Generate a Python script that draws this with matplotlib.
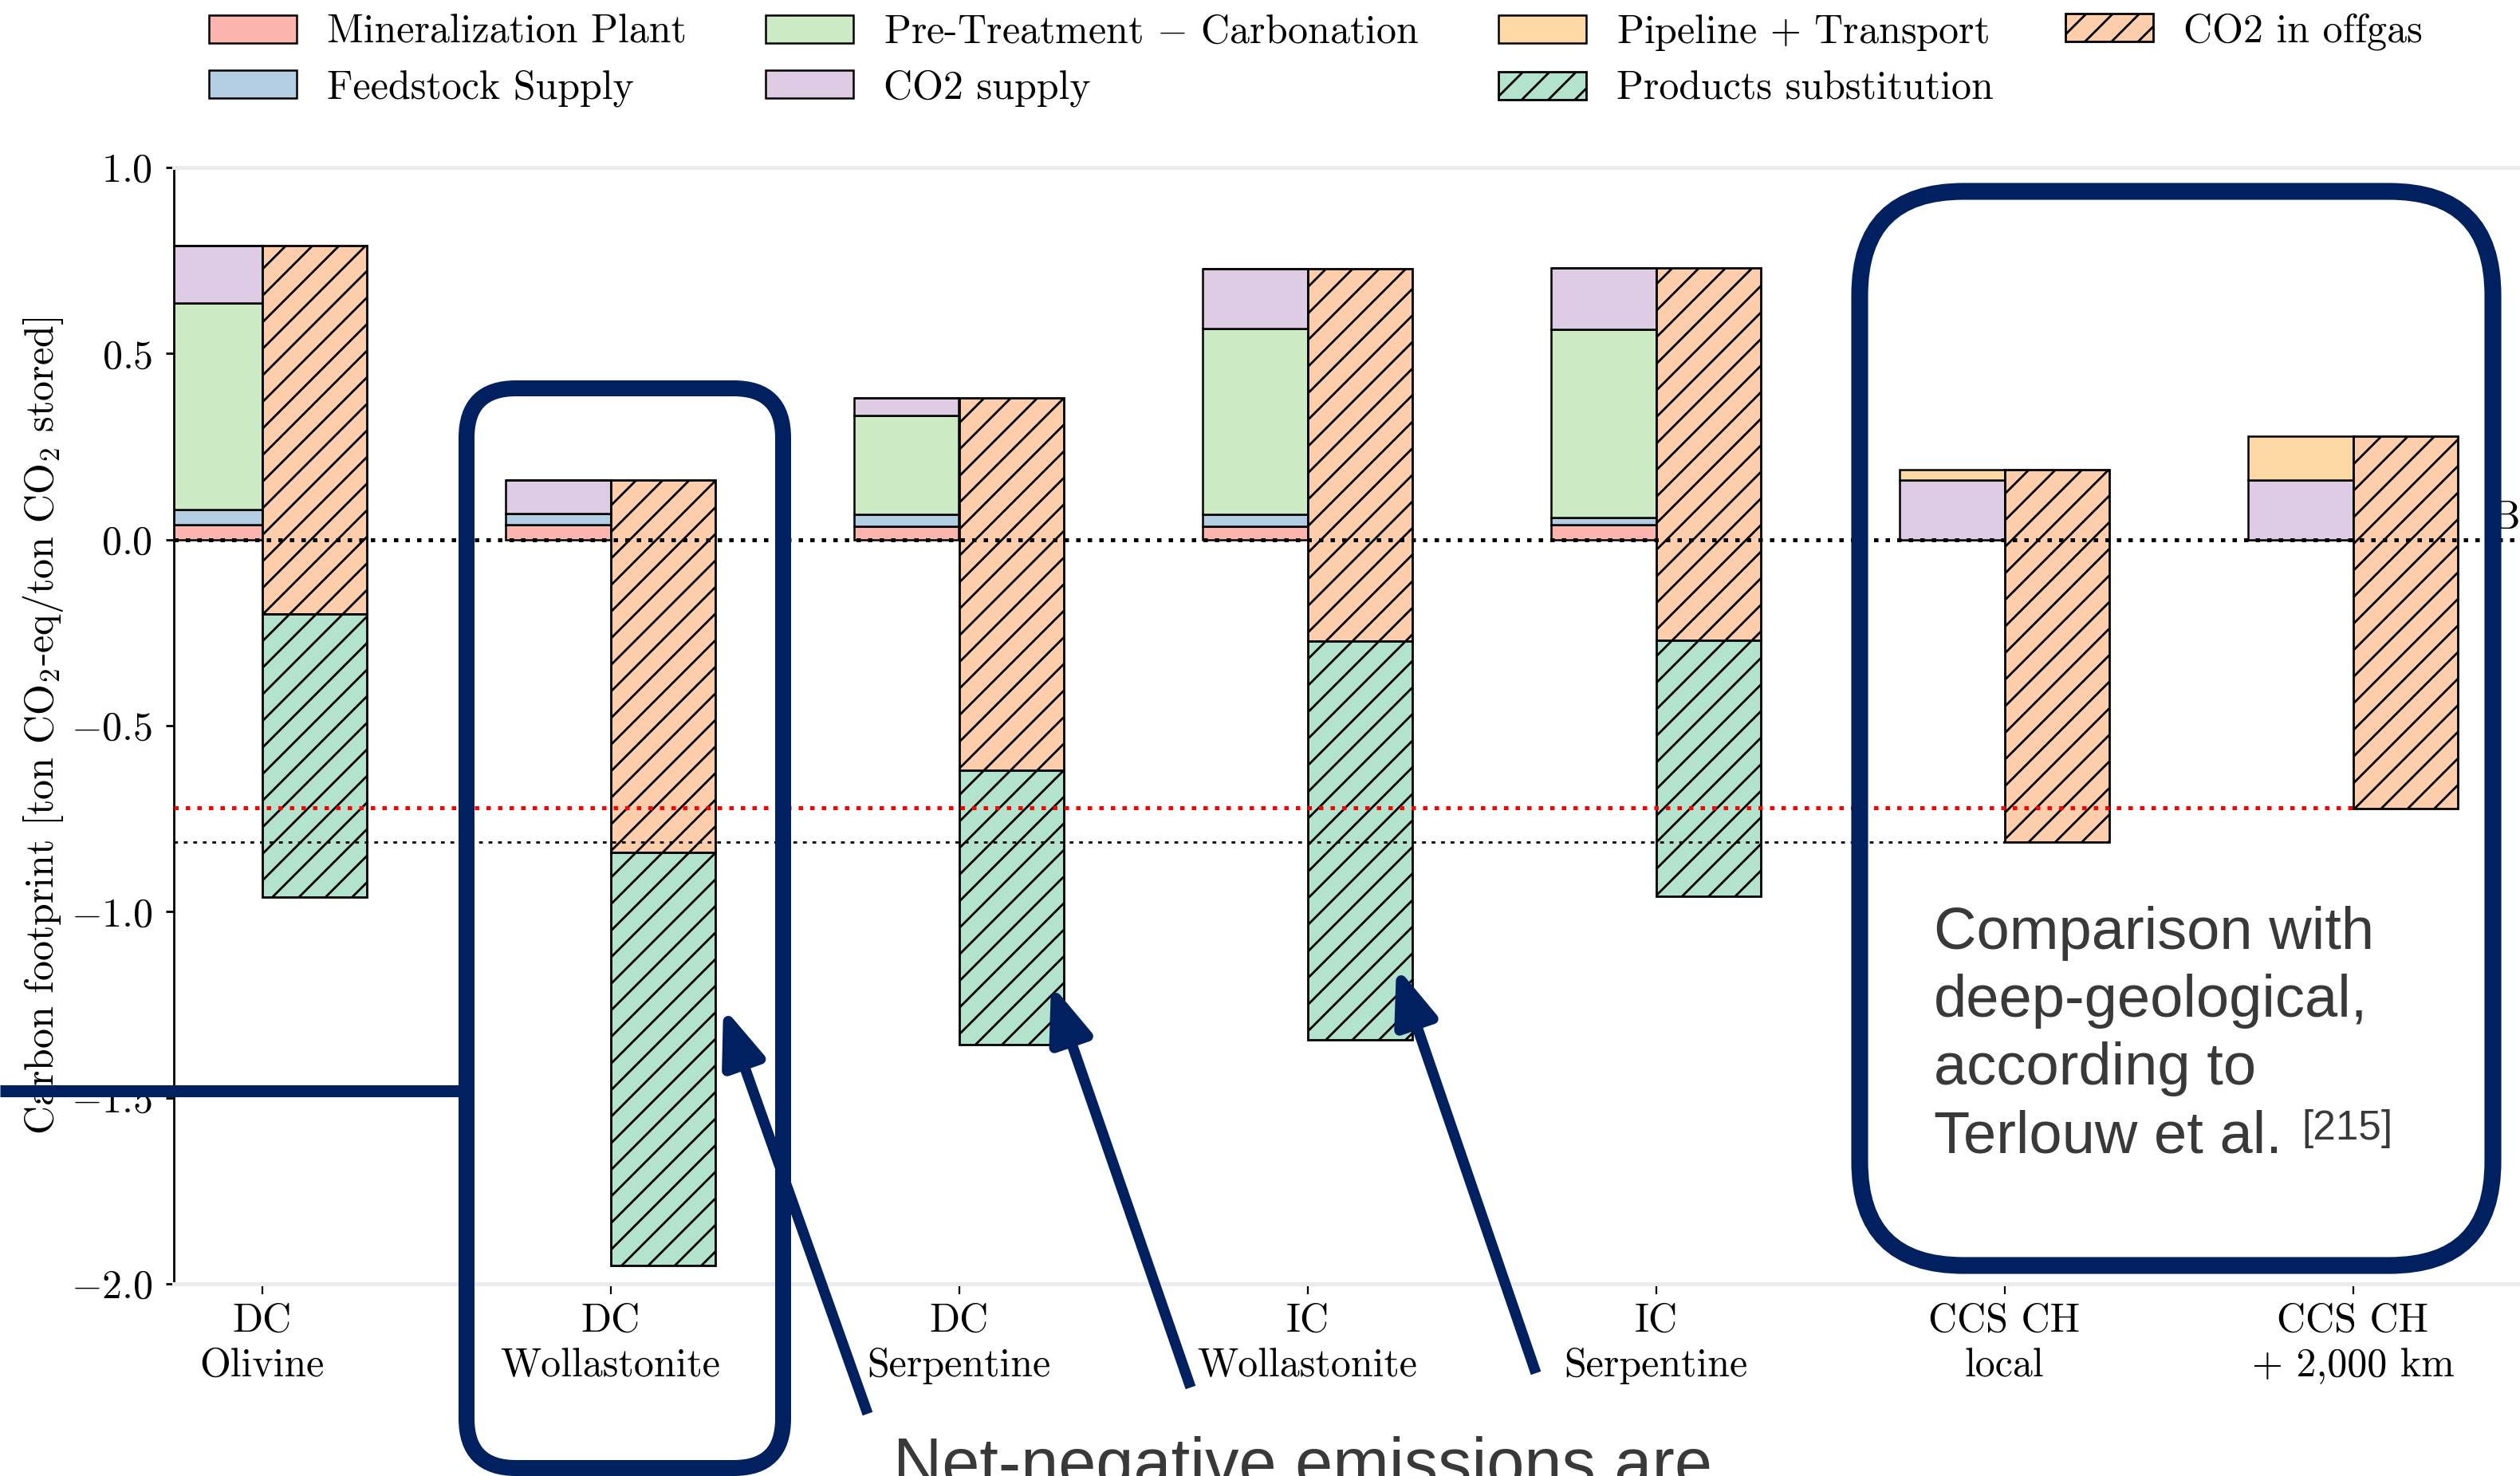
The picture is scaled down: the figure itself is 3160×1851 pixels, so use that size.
import matplotlib
matplotlib.use("Agg")
import matplotlib.pyplot as plt
import numpy as np
from matplotlib.patches import FancyBboxPatch, FancyArrowPatch
from matplotlib.lines import Line2D
from matplotlib.transforms import IdentityTransform

plt.rcParams['font.family'] = 'cmr10'
plt.rcParams['mathtext.fontset'] = 'cm'
plt.rcParams['axes.unicode_minus'] = False
plt.rcParams['hatch.linewidth'] = 1.0

# ---------------- data ----------------
scenarios = ['DC\nOlivine', 'DC\nWollastonite', 'DC\nSerpentine', 'IC\nWollastonite',
             'IC\nSerpentine', 'CCS CH\nlocal', 'CCS CH\n+ 2,000 km']
mineralization_plant = [0.040, 0.040, 0.035, 0.035, 0.040, 0.000, 0.000]
feedstock_supply     = [0.040, 0.030, 0.033, 0.033, 0.020, 0.000, 0.000]
pretreatment         = [0.555, 0.000, 0.266, 0.500, 0.505, 0.000, 0.000]
co2_supply           = [0.155, 0.090, 0.046, 0.160, 0.165, 0.159, 0.159]
pipeline_transport   = [0.000, 0.000, 0.000, 0.000, 0.000, 0.028, 0.119]
co2_in_offgas        = [-0.99, -1.00, -1.00, -1.00, -1.00, -1.00, -1.00]
products_subst       = [-0.76, -1.11, -0.737, -1.073, -0.688, 0.000, 0.000]

y_ticks = [1.0, 0.5, 0.0, -0.5, -1.0, -1.5, -2.0]
ref_ccs_2000 = -0.72   # CCS CH + 2,000 km net footprint
ref_ccs_local = -0.813  # CCS CH local net footprint

components = [
    ('Mineralization Plant', mineralization_plant, '#fbb4ae'),
    ('Feedstock Supply', feedstock_supply, '#b3cde3'),
    ('Pre-Treatment $-$ Carbonation', pretreatment, '#ccebc5'),
    ('CO2 supply', co2_supply, '#decbe4'),
    ('Pipeline $+$ Transport', pipeline_transport, '#fed9a6'),
]
offgas_color = '#fdcdac'
subst_color = '#b3e2cd'

# ---------------- figure ----------------
W, H, DPI = 3160, 1851, 200
fig = plt.figure(figsize=(W / DPI, H / DPI), dpi=DPI)

ax_left_px, ax_right_px, ax_top_px, ax_bot_px = 218, 3300, 210, 1610
ax = fig.add_axes([ax_left_px / W, 1 - ax_bot_px / H,
                   (ax_right_px - ax_left_px) / W, (ax_bot_px - ax_top_px) / H])

x = np.arange(len(scenarios))
width = 0.302
tick0_px, step_px = 328.5, 437.0
xlim_left = -(tick0_px - ax_left_px) / step_px
xlim_right = (ax_right_px - tick0_px) / step_px

handles = {}
bottom = np.zeros(len(scenarios))
for label, vals, color in components:
    vals = np.array(vals)
    b = ax.bar(x - width, vals, width=width, bottom=bottom, align='edge',
               color=color, edgecolor='black', linewidth=0.9, zorder=2, label=label)
    handles[label] = b
    bottom = bottom + vals
totals = bottom

offgas = np.array(co2_in_offgas)
subst = np.array(products_subst)
b_off = ax.bar(x, -offgas, width=width, bottom=totals + offgas, align='edge',
               color=offgas_color, edgecolor='black', linewidth=1.0, hatch='//',
               zorder=2, label='CO2 in offgas')
mask = subst != 0
b_sub = ax.bar(x[mask], -subst[mask], width=width, bottom=(totals + offgas + subst)[mask],
               align='edge', color=subst_color, edgecolor='black', linewidth=1.0,
               hatch='//', zorder=2, label='Products substitution')

# reference lines
ax.axhline(0.0, color='black', lw=1.8, ls=(0, (1.1, 1.8)), zorder=3)
ax.hlines(ref_ccs_2000, xlim_left, x[6], color='red', lw=1.8,
          linestyles=[(0, (1.1, 1.8))], zorder=3)
ax.hlines(ref_ccs_local, xlim_left, x[5], color='black', lw=1.0,
          linestyles=[(0, (1.7, 2.6))], zorder=3)

ax.set_xlim(xlim_left, xlim_right)
ax.set_ylim(-2.0, 1.0)
ax.set_xticks(x)
ax.set_xticklabels(scenarios, fontsize=18, linespacing=1.3)
ax.set_yticks(y_ticks)
ax.set_yticklabels([r'$%.1f$' % v for v in y_ticks], fontsize=18)
ax.tick_params(axis='y', direction='out', length=3.6, width=1.0, pad=6)
ax.tick_params(axis='x', direction='out', length=4.5, width=0.8, pad=4)

for s in ['top', 'bottom']:
    ax.spines[s].set_color('#ebebeb')
    ax.spines[s].set_linewidth(1.8)
ax.spines['right'].set_visible(False)
ax.spines['left'].set_color('black')
ax.spines['left'].set_linewidth(1.0)

ax.set_ylabel('Carbon footprint [ton CO$_2$-eq/ton CO$_2$ stored]', fontsize=18)
ax.yaxis.set_label_coords(-(ax_left_px - 82) / (ax_right_px - ax_left_px), 0.5)

# legend: three full columns, then the single hatched entry in its own column
legend_kw = dict(loc='upper left', frameon=False, fontsize=18,
                 handlelength=2.2, handleheight=0.7, handletextpad=0.75,
                 columnspacing=2.0, labelspacing=0.46, borderpad=0, borderaxespad=0)
order = ['Mineralization Plant', 'Feedstock Supply', 'Pre-Treatment $-$ Carbonation',
         'CO2 supply', 'Pipeline $+$ Transport']
leg_handles = [handles[k] for k in order] + [b_sub]
leg_labels = order + ['Products substitution']
fig.legend(leg_handles, leg_labels, ncol=3,
           bbox_to_anchor=(262 / W, 1 - 16 / H), **legend_kw)
fig.legend([b_off], ['CO2 in offgas'], ncol=1,
           bbox_to_anchor=(2590 / W, 1 - 16 / H), **legend_kw)

# partially visible label at the right edge
fig.text(3124 / W, 1 - 663 / H, 'B', fontsize=18, va='baseline', ha='left')

# ---------------- overlays ----------------
navy = '#002060'
grey_txt = '#3B3838'
ident = IdentityTransform()


def py(y):
    return H - y


box1 = FancyBboxPatch((585, py(1841)), 982 - 585, 1841 - 487,
                      boxstyle='round,pad=0,rounding_size=62',
                      transform=ident, fill=False, edgecolor=navy, lw=7.2,
                      zorder=10)
fig.patches.append(box1)
fig.lines.append(Line2D([0, 585], [py(1368), py(1368)], transform=ident,
                        color=navy, lw=5.4, solid_capstyle='butt', zorder=10))

box2 = FancyBboxPatch((2332, py(1587)), 3126 - 2332, 1587 - 240,
                      boxstyle='round,pad=0,rounding_size=130',
                      transform=ident, fill=False, edgecolor=navy, lw=7.6,
                      zorder=10)
fig.patches.append(box2)

arrows = [((1088, 1773), (907, 1263)),
          ((1493, 1740), (1318, 1234)),
          ((1926, 1722), (1751, 1212))]
for (tx, ty), (hx, hy) in arrows:
    arr = FancyArrowPatch((tx, py(ty)), (hx, py(hy)), transform=ident,
                          arrowstyle='-|>,head_length=21,head_width=8',
                          color=navy, lw=4.8, shrinkA=0, shrinkB=0,
                          capstyle='butt', zorder=11)
    fig.patches.append(arr)

comparison_lines = ['Comparison with', 'deep-geological,', 'according to', 'Terlouw et al.']
baselines = [1190, 1275, 1360, 1446]
for txt, yb in zip(comparison_lines, baselines):
    fig.text(2425 / W, 1 - yb / H, txt, fontsize=26.7, family='Liberation Sans',
             color=grey_txt, va='baseline', ha='left')
fig.text(2886 / W, 1 - 1429 / H, '[215]', fontsize=18.5, family='Liberation Sans',
         color=grey_txt, va='baseline', ha='left')

fig.text(1120 / W, 1 - 1863 / H, 'Net-negative emissions are', fontsize=30.5,
         family='Liberation Sans', color=grey_txt, va='baseline', ha='left')

fig.savefig('out.png', dpi=DPI)
